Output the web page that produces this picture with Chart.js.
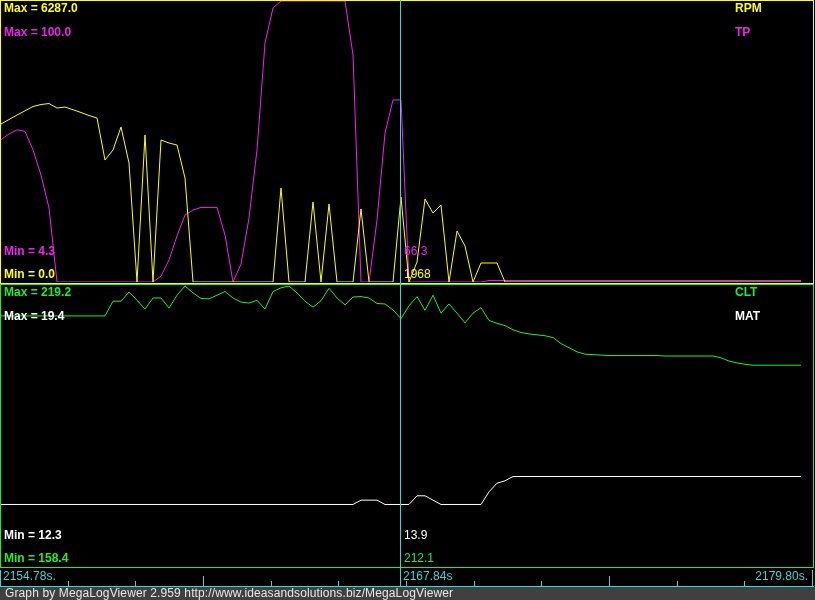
<!DOCTYPE html>
<html>
<head>
<meta charset="utf-8">
<script src="https://cdn.jsdelivr.net/npm/chart.js@4.4.1/dist/chart.umd.min.js"></script>
<style>
  html, body { margin: 0; padding: 0; background: #000; }
  #wrap { position: relative; width: 815px; height: 600px; background: #000; overflow: hidden; }
  #topPanel { position: absolute; left: 0; top: 0; }
  #bottomPanel { position: absolute; left: 0; top: 284px; }
  #footer {
    position: absolute; left: 0; top: 587px; width: 815px; height: 13px;
    background: #404040; color: #e6e6e6; box-sizing: border-box; padding-left: 5px;
    font: 12px "Liberation Sans", Arial, sans-serif; line-height: 13px; white-space: nowrap;
    letter-spacing: 0.12px;
  }
</style>
</head>
<body>
<div id="wrap">
  <canvas id="topPanel" width="815" height="284"></canvas>
  <canvas id="bottomPanel" width="815" height="303"></canvas>
  <div id="footer"></div>
</div>
<script>
// log records shown in the window (one per sample)
const samples = Array.from({ length: 101 }, (_, i) => i);

const rpm = [
  3535, 3635, 3736, 3830, 3926, 3971, 3993, 3892, 3915, 3854,
  3792, 3725, 3669, 2729, 2953, 3467, 2662, 0, 3288, 0,
  3177, 3109, 3065, 2326, 0, 0, 0, 0, 0, 0,
  0, 0, 0, 0, 0, 2103, 0, 0, 0, 1790,
  0, 1745, 0, 0, 0, 1633, 0, 0, 0, 0,
  1900, 0, 447, 1857, 1544, 1722, 0, 1141, 805, 0,
  425, 425, 425, 0, 0, 0, 0, 0, 0, 0,
  0, 0, 0, 0, 0, 0, 0, 0, 0, 0,
  0, 0, 0, 0, 0, 0, 0, 0, 0, 0,
  0, 0, 0, 0, 0, 0, 0, 0, 0, 0,
  0
];

const tp = [
  52.8, 54.7, 56.1, 55.6, 49.3, 40.7, 29.5, 4.3, 4.3, 4.3,
  4.3, 4.3, 4.3, 4.3, 4.3, 4.3, 4.3, 4.3, 4.3, 4.3,
  6.3, 11.8, 20.0, 27.1, 28.8, 29.7, 29.7, 29.7, 20.3, 4.3,
  10.4, 26.1, 49.3, 85.7, 97.6, 100, 100, 100, 100, 100,
  100, 100, 100, 100, 81.6, 4.3, 4.3, 25.4, 55.0, 66.3,
  66.3, 4.3, 4.3, 4.3, 4.3, 4.3, 4.3, 4.3, 4.3, 4.3,
  4.3, 4.8, 4.8, 4.8, 4.8, 4.8, 4.8, 4.8, 4.8, 4.8,
  4.8, 4.8, 4.8, 4.8, 4.8, 4.8, 4.8, 4.8, 4.8, 4.8,
  4.8, 4.8, 4.8, 4.8, 4.8, 4.8, 4.8, 4.8, 4.8, 4.8,
  4.8, 4.8, 4.8, 4.8, 4.8, 4.8, 4.8, 4.8, 4.8, 4.8,
  4.8
];

const clt = [
  212.7, 212.7, 212.7, 212.7, 212.7, 212.7, 212.7, 212.7, 212.7, 212.7,
  212.7, 212.7, 212.7, 212.7, 215.9, 215.9, 217.9, 216.1, 214.2, 216.6,
  216.6, 214.4, 217.2, 219.2, 217.7, 216.5, 216.4, 217.2, 218.0, 216.6,
  215.7, 215.5, 216.1, 214.2, 218.0, 218.8, 219.2, 217.7, 215.9, 214.6,
  216.0, 218.7, 216.6, 215.1, 216.8, 216.9, 216.6, 215.4, 215.3, 214.0,
  212.1, 214.9, 216.9, 213.9, 217.2, 213.3, 215.3, 213.3, 211.2, 213.3,
  214.5, 211.7, 211.1, 210.6, 209.7, 209.1, 208.8, 208.6, 208.4, 208.0,
  206.7, 205.8, 204.9, 204.4, 204.3, 204.2, 204.1, 204.1, 204.1, 204.1,
  204.1, 204.1, 204.1, 204.0, 204.0, 204.0, 204.0, 204.0, 204.0, 204.0,
  203.6, 202.9, 202.5, 202.2, 202.0, 202.0, 202.0, 202.0, 202.0, 202.0,
  202.0
];

const mat = [
  13.86, 13.86, 13.86, 13.86, 13.86, 13.86, 13.86, 13.86, 13.86, 13.86,
  13.86, 13.86, 13.86, 13.86, 13.86, 13.86, 13.86, 13.86, 13.86, 13.86,
  13.86, 13.86, 13.86, 13.86, 13.86, 13.86, 13.86, 13.86, 13.86, 13.86,
  13.86, 13.86, 13.86, 13.86, 13.86, 13.86, 13.86, 13.86, 13.86, 13.86,
  13.86, 13.86, 13.86, 13.86, 13.86, 13.97, 13.97, 13.97, 13.86, 13.86,
  13.86, 13.86, 14.08, 14.08, 13.97, 13.86, 13.86, 13.86, 13.86, 13.86,
  13.86, 14.18, 14.40, 14.46, 14.57, 14.57, 14.57, 14.57, 14.57, 14.57,
  14.57, 14.57, 14.57, 14.57, 14.57, 14.57, 14.57, 14.57, 14.57, 14.57,
  14.57, 14.57, 14.57, 14.57, 14.57, 14.57, 14.57, 14.57, 14.57, 14.57,
  14.57, 14.57, 14.57, 14.57, 14.57, 14.57, 14.57, 14.57, 14.57, 14.57,
  14.57
];

// graph ranges (min, max) as shown in the panels
const rpmRange = [0.0, 6287.0];
const tpRange = [4.3, 100.0];
const cltRange = [158.4, 219.2];
const matRange = [12.3, 19.4];

// cursor
const cursorIndex = 50;
const cursorReadTop = ['1968', '66.3'];
const cursorReadBottom = ['212.1', '13.9'];

// time axis
const timeRange = [2154.78, 2179.80];
const timeLabels = ['2154.78s.', '2167.84s', '2179.80s.'];
const footerText = 'Graph by MegaLogViewer 2.959 http://www.ideasandsolutions.biz/MegaLogViewer';

const YELLOW = '#ffff00';
const MAGENTA = '#f020f0';
const GREEN = '#22ee22';
const WHITE = '#ffffff';
const CYAN = '#38d4d8';
const BOLD = 'bold 12px "Liberation Sans", Arial, sans-serif';
const PLAIN = '12px "Liberation Sans", Arial, sans-serif';

document.getElementById('footer').textContent = footerText;

// border, labels, cursor (and time strip on the lower graph)
const panelDecor = {
    id: 'panelDecor',
    afterDatasetsDraw(chart, args, opts) {
        const ctx = chart.ctx;
        const xs = chart.scales.x;
        ctx.save();

        ctx.strokeStyle = opts.border;
        ctx.lineWidth = 1;
        ctx.strokeRect(0.5, 0.5, 813, 283);

        const cx = Math.round(xs.getPixelForValue(cursorIndex)) - 0.5;

        ctx.textBaseline = 'alphabetic';
        ctx.textAlign = 'left';
        const s = opts.series;
        // max labels + names at top, min labels at bottom
        ctx.font = BOLD;
        ctx.fillStyle = s[0].color;
        ctx.fillText('Max = ' + s[0].range[1].toFixed(1), 4, 12);
        ctx.fillText(s[0].name, 735, 12);
        ctx.fillText('Min = ' + s[0].range[0].toFixed(1), 4, 278);
        ctx.fillStyle = s[1].color;
        ctx.fillText('Max = ' + s[1].range[1].toFixed(1), 4, 36);
        ctx.fillText(s[1].name, 735, 36);
        ctx.fillText('Min = ' + s[1].range[0].toFixed(1), 4, 255);

        // cursor
        ctx.strokeStyle = CYAN;
        ctx.beginPath();
        ctx.moveTo(cx, 0);
        ctx.lineTo(cx, opts.timeStrip ? 302 : chart.height);
        ctx.stroke();

        ctx.font = PLAIN;
        ctx.fillStyle = s[0].color;
        ctx.fillText(opts.readout[0], cx + 3.5, 278);
        ctx.fillStyle = s[1].color;
        ctx.fillText(opts.readout[1], cx + 3.5, 255);

        if (opts.timeStrip) {
            const xt = chart.scales.xt;
            ctx.strokeStyle = CYAN;
            ctx.beginPath();
            ctx.moveTo(0, 302.5);
            ctx.lineTo(814, 302.5);
            const step = (timeRange[1] - timeRange[0]) / 12;
            for (let k = 0; k <= 12; k++) {
                let px = Math.round(xt.getPixelForValue(timeRange[0] + k * step)) - 0.5;
                const h = (k === 0 || k === 12) ? 16 : (k % 6 === 3 ? 10 : 5);
                ctx.moveTo(px, 302);
                ctx.lineTo(px, 302 - h);
            }
            ctx.stroke();

            ctx.fillStyle = CYAN;
            ctx.font = PLAIN;
            ctx.fillText(timeLabels[0], 3, 296);
            ctx.fillText(timeLabels[1], cx + 2.5, 296);
            ctx.textAlign = 'right';
            ctx.fillText(timeLabels[2], 808, 296);
        }
        ctx.restore();
    }
};

function lineSet(label, values, color, axis) {
    return {
        label: label,
        data: values,
        borderColor: color,
        borderWidth: 1,
        pointRadius: 0,
        tension: 0,
        fill: false,
        xAxisID: 'x',
        yAxisID: axis
    };
}

const commonX = { type: 'linear', min: 0, max: 101.5, display: false };

new Chart(document.getElementById('topPanel'), {
    type: 'line',
    data: {
        labels: samples,
        datasets: [
            lineSet('RPM', rpm, YELLOW, 'yRpm'),
            lineSet('TP', tp, MAGENTA, 'yTp')
        ]
    },
    options: {
        responsive: false,
        animation: false,
        devicePixelRatio: 1,
        layout: { padding: { left: 1, right: 2, top: 1, bottom: 2 } },
        plugins: {
            legend: { display: false },
            tooltip: { enabled: false },
            panelDecor: {
                border: YELLOW,
                timeStrip: false,
                readout: cursorReadTop,
                series: [
                    { name: 'RPM', color: YELLOW, range: rpmRange },
                    { name: 'TP', color: MAGENTA, range: tpRange }
                ]
            }
        },
        scales: {
            x: commonX,
            yRpm: { type: 'linear', min: rpmRange[0], max: rpmRange[1], display: false },
            yTp: { type: 'linear', min: tpRange[0], max: tpRange[1], display: false }
        }
    },
    plugins: [panelDecor]
});

new Chart(document.getElementById('bottomPanel'), {
    type: 'line',
    data: {
        labels: samples,
        datasets: [
            lineSet('CLT', clt, GREEN, 'yClt'),
            lineSet('MAT', mat, WHITE, 'yMat')
        ]
    },
    options: {
        responsive: false,
        animation: false,
        devicePixelRatio: 1,
        layout: { padding: { left: 1, right: 2, top: 2, bottom: 21 } },
        plugins: {
            legend: { display: false },
            tooltip: { enabled: false },
            panelDecor: {
                border: GREEN,
                timeStrip: true,
                readout: cursorReadBottom,
                series: [
                    { name: 'CLT', color: GREEN, range: cltRange },
                    { name: 'MAT', color: WHITE, range: matRange }
                ]
            }
        },
        scales: {
            x: commonX,
            xt: { type: 'linear', min: timeRange[0], max: timeRange[1], display: false },
            yClt: { type: 'linear', min: cltRange[0], max: cltRange[1], display: false },
            yMat: { type: 'linear', min: matRange[0], max: matRange[1], display: false }
        }
    },
    plugins: [panelDecor]
});
</script>
</body>
</html>
